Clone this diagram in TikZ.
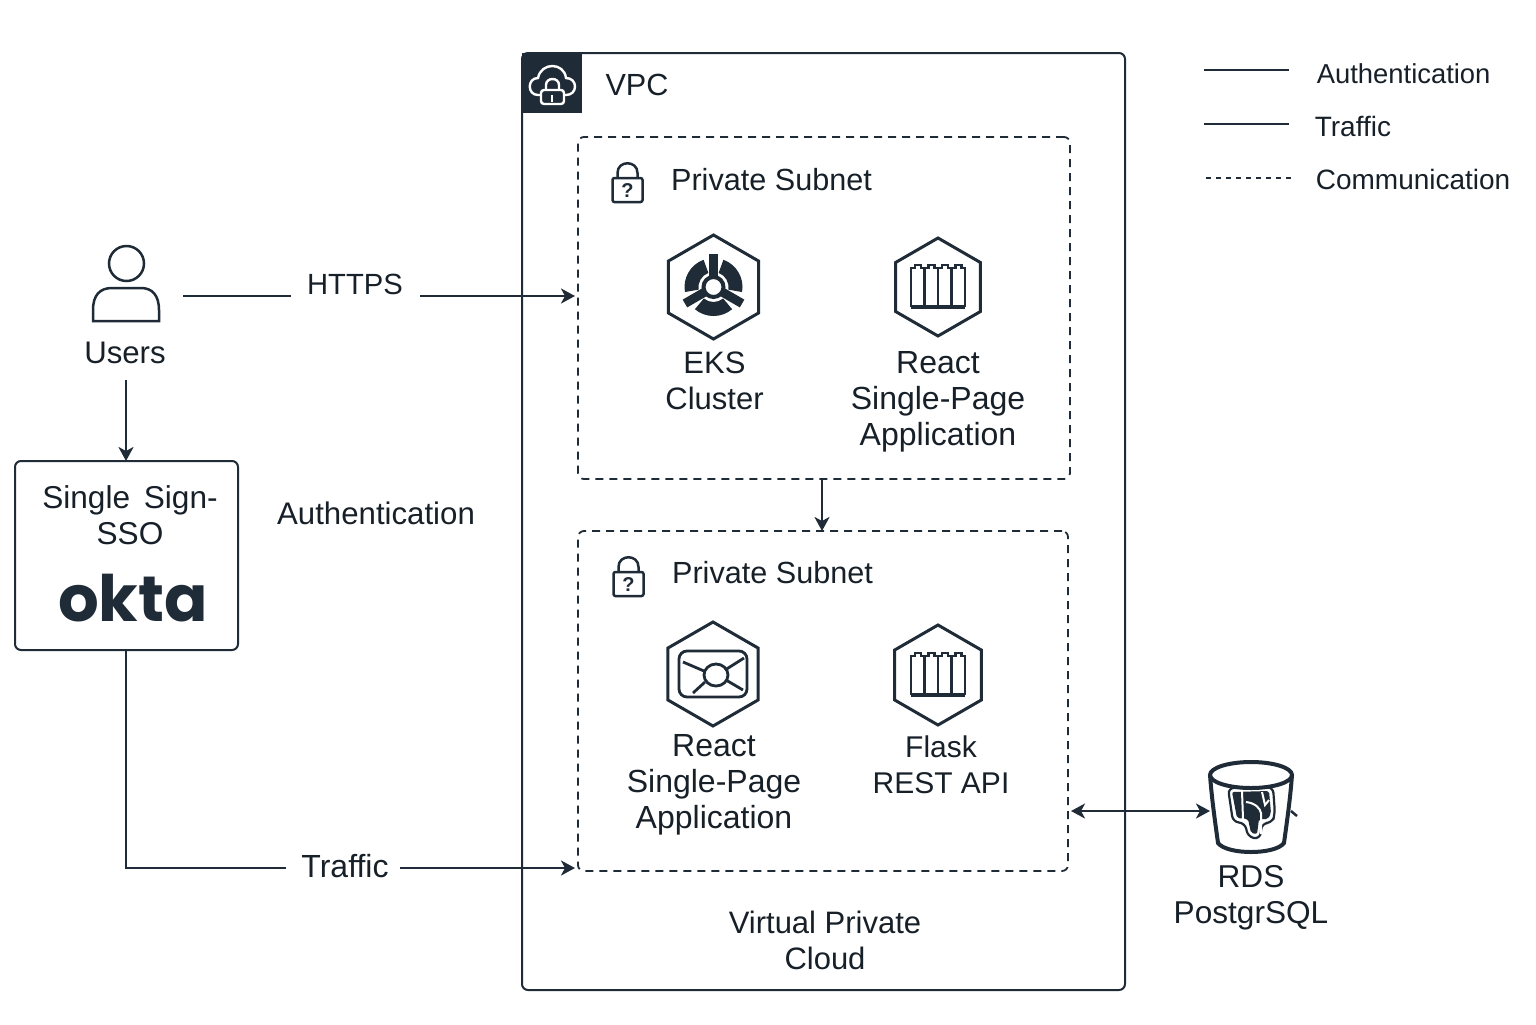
\documentclass[tikz,border=0pt]{standalone}
\usepackage{fontspec}
\setmainfont{Liberation Sans}
\newfontfamily\oktafont{Poppins}
\usetikzlibrary{arrows.meta}
\usetikzlibrary{positioning}
\usetikzlibrary{shapes.geometric}
\definecolor{inkdark}{HTML}{1F2B36}
\definecolor{inktext}{HTML}{172028}
\tikzset{
  txt/.style={text=inktext,align=center,inner sep=0pt,font=\fontsize{#1}{18}\selectfont},
  txt/.default=15.3,
  legendtxt/.style={text=inktext,anchor=west,inner sep=0pt,font=\fontsize{#1}{16}\selectfont},
  frame/.style={draw=inkdark,line width=1pt,rounded corners=3pt,inner sep=0pt,outer sep=0pt},
  subnet/.style={draw=inkdark,line width=.9pt,dash pattern=on 4pt off 3pt,rounded corners=3pt,inner sep=0pt,outer sep=0pt},
  hexicon/.style={draw=inkdark,line width=1.5pt,regular polygon,regular polygon sides=6,shape border rotate=30,inner sep=0pt,outer sep=0pt},
  flow/.style={draw=inkdark,line width=1.25pt},
  lockicon/.pic={
    \draw[inkdark,line width=1.25pt,rounded corners=1pt] (-15,-6) rectangle (15,18);
    \draw[inkdark,line width=1.25pt] (-10,-6) -- (-10,-11) .. controls (-10,-24) and (10,-24) .. (10,-11) -- (10,-6);
    \node (q) [text=inkdark,inner sep=0pt,font=\bfseries\fontsize{10}{10}\selectfont] at (0,7) {?};
  },
  eksglyph/.pic={
    \foreach \a in {270,30,150} {
      \draw[inkdark,line width=4.5pt] (\a:10) -- (\a:33);
      \fill[inkdark] (\a+60-40:15) arc[start angle=\a+60-40,end angle=\a+60+40,radius=15]
        -- (\a+60+40:29) arc[start angle=\a+60+40,end angle=\a+60-40,radius=29] -- cycle;
    }
    \draw[inkdark,line width=2pt,fill=white] (0,0) circle (10);
  },
  towerglyph/.pic={
    \foreach \c in {0,1,2,3} {
      \draw[inkdark,line width=1.4pt] ({-27+13.5*\c},20) -- ({-27+13.5*\c},-19) -- ({-23+13.5*\c},-19)
        -- ({-23+13.5*\c},-22) -- ({-17+13.5*\c},-22) -- ({-17+13.5*\c},-19) -- ({-13.5+13.5*\c},-19) -- ({-13.5+13.5*\c},20);
    }
    \draw[inkdark,line width=1.7pt] (-27,20) -- (27,20);
  },
  mailglyph/.pic={
    \draw[inkdark,line width=1.4pt,rounded corners=4pt] (-34,-23) rectangle (34,23);
    \draw[inkdark,line width=1.4pt] (3,1) circle[x radius=12,y radius=11];
    \draw[inkdark,line width=1.4pt] (-30,-12) -- (-9,-3) (31,-16) -- (12,-4)
      (-8,8) -- (-20,19) (13,6) -- (30,16);
  },
  bucketglyph/.pic={
    \draw[inkdark,line width=2pt] (0,-36) circle[x radius=41,y radius=13];
    \draw[inkdark,line width=2pt] (-41,-36) .. controls (-39,-10) and (-36,10) .. (-33,32)
      .. controls (-24,44) and (24,44) .. (33,32) .. controls (36,10) and (39,-10) .. (41,-36);
    \draw[inkdark,line width=1.1pt,rounded corners=3pt] (-23,-23) -- (22,-24) -- (24,3) -- (21,12) -- (11,12)
      -- (9,28) -- (-3,26) -- (-6,12) -- (-18,11) -- cycle;
    \fill[inkdark,rounded corners=1pt] (-19,-19) -- (18,-20) -- (20,2) -- (17,8) -- (8,8)
      -- (6,23) -- (0,22) -- (-3,8) -- (-14,7) -- cycle;
    \draw[white,line width=1pt] (-9,-20) -- (-8,8) (-5,-9) .. controls (4,-8) and (9,-3) .. (10,2) -- (10,23)
      (11,-19) -- (14,-6) -- (18,-11);
  }
}
\begin{document}
\begin{tikzpicture}[x=.5pt,y=-.5pt,>={Stealth[length=7pt,width=7.5pt,inset=2pt]},thick]
  \useasboundingbox (0,0) rectangle (1536,1024);

  \node (vpc) [frame,minimum width=301.5pt,minimum height=468.5pt] at (823.5,521.5) {};
  \node (vpcicon) [fill=inkdark,inner sep=0pt,outer sep=0pt,minimum size=30pt] at (552,83) {};
  \draw[white,line width=1.2pt] (541,95) -- (538,95) .. controls (527,95) and (527,78) .. (538,78)
    .. controls (541,62) and (564,62) .. (566,78) .. controls (578,78) and (578,95) .. (566,95) -- (563,95);
  \draw[white,line width=1.2pt,rounded corners=1.5pt] (541,90) rectangle (564,104);
  \draw[white,line width=1.2pt] (546,90) -- (546,85) .. controls (546,77) and (559,77) .. (559,85) -- (559,90);
  \draw[white,line width=1.2pt] (552,95) -- (552,102);
  \node (vpclabel) [txt] at (637,85) {VPC};

  \node (subnetA) [subnet,minimum width=246pt,minimum height=171pt] at (824,308) {};
  \node (subnetB) [subnet,minimum width=245pt,minimum height=170pt] at (823,701) {};
  \pic at (627.5,184) {lockicon};
  \pic at (628.5,578) {lockicon};
  \node (subnetAlabel) [txt] at (771.5,180) {Private Subnet};
  \node (subnetBlabel) [txt] at (772.5,573) {Private Subnet};

  \node (eks) [hexicon,minimum size=52pt] at (713.5,287) {};
  \node (reactA) [hexicon,minimum size=49pt] at (938,287) {};
  \node (reactB) [hexicon,minimum size=52pt] at (713,674) {};
  \node (flask) [hexicon,minimum size=50pt] at (938,675) {};
  \pic at (eks) {eksglyph};
  \pic at (reactA) {towerglyph};
  \pic at (reactB) {mailglyph};
  \pic at (flask) {towerglyph};
  \node (ekslabel) [txt=15.5,below of=eks,node distance=47pt,xshift=.5pt] {EKS\\Cluster};
  \node (reactAlabel) [txt=16,below of=reactA,node distance=57.5pt] {React\\Single-Page\\Application};
  \node (reactBlabel) [txt=16,below of=reactB,node distance=55.5pt,xshift=.5pt] {React\\Single-Page\\Application};
  \node (flasklabel) [txt=15,below of=flask,node distance=45pt,xshift=1.5pt] {Flask\\REST API};
  \node (vpcname) [txt=15.5] at (825,940) {Virtual Private\\Cloud};

  \node (head) [circle,draw=inkdark,line width=1.25pt,minimum size=17.5pt,inner sep=0pt] at (126.5,263.5) {};
  \draw[inkdark,line width=1.25pt] (93,321) -- (93,310) .. controls (93,295) and (100,288) .. (112,288)
    -- (141,288) .. controls (152,288) and (159,295) .. (159,310) -- (159,321) -- cycle;
  \node (users) [txt=15.6] at (125,352.5) {Users};
  \node (sso) [frame,minimum width=111.5pt,minimum height=94.5pt] at (126.5,555.5) {};
  \node (ssolabel) [txt=15.8] at (130,515.5) {Single\hspace{2.5pt} Sign-\\SSO};
  \node (okta) [text=inkdark,inner sep=0pt,font=\oktafont\bfseries\fontsize{32}{32}\selectfont] at (133,598) {okta};
  \node (authlabel) [txt=15.6] at (376,513) {Authentication};

  \node (bucket) [inner sep=0pt,outer sep=0pt,minimum size=41pt] at (1251,811) {};
  \pic at (1251,811) {bucketglyph};
  \node (rdslabel) [txt=15.8] at (1251,898) {RDS\\PostgrSQL};

  \coordinate (usersOut) at (183,296);
  \coordinate (usersDown) at (126,380);
  \coordinate (httpsL) at (291,296);
  \coordinate (httpsR) at (420,296);
  \coordinate (trafficL) at (286,868);
  \coordinate (trafficR) at (400,868);
  \coordinate (subnetGap) at (822,479);
  \node (https) [txt=14.6] at (355,284) {HTTPS};
  \node (traffic) [txt=16] at (345,866.5) {Traffic};

  \draw[flow] (usersOut) -- (httpsL);
  \draw[flow,->,shorten >=1.5pt] (httpsR) -- (subnetA.west |- httpsR);
  \draw[flow,->] (usersDown) -- (usersDown |- sso.north);
  \draw[flow] (usersDown |- sso.south) |- (trafficL);
  \draw[flow,->,shorten >=1.5pt] (trafficR) -- (subnetB.west |- trafficR);
  \draw[flow,->] (subnetGap) -- (subnetGap |- subnetB.north);
  \draw[flow,<->,shorten <=1.5pt] (subnetB.east |- bucket) -- (bucket.west);
  \coordinate (tickA) at (1291,811);
  \coordinate (tickB) at (1297,816);
  \draw[flow] (tickA) -- (tickB);

  \coordinate (legAa) at (1204,70);
  \coordinate (legAb) at (1289,70);
  \coordinate (legBa) at (1204,124);
  \coordinate (legBb) at (1289,124);
  \coordinate (legCa) at (1206,178);
  \coordinate (legCb) at (1292,178);
  \draw[flow] (legAa) -- (legAb);
  \draw[flow] (legBa) -- (legBb);
  \draw[inkdark,line width=.7pt,dash pattern=on 2.5pt off 2.5pt] (legCa) -- (legCb);
  \node (legA) [legendtxt=13.7] at (1316,73.5) {Authentication};
  \node (legB) [legendtxt=14] at (1314,126) {Traffic};
  \node (legC) [legendtxt=14] at (1315,179.5) {Communication};
\end{tikzpicture}
\end{document}
